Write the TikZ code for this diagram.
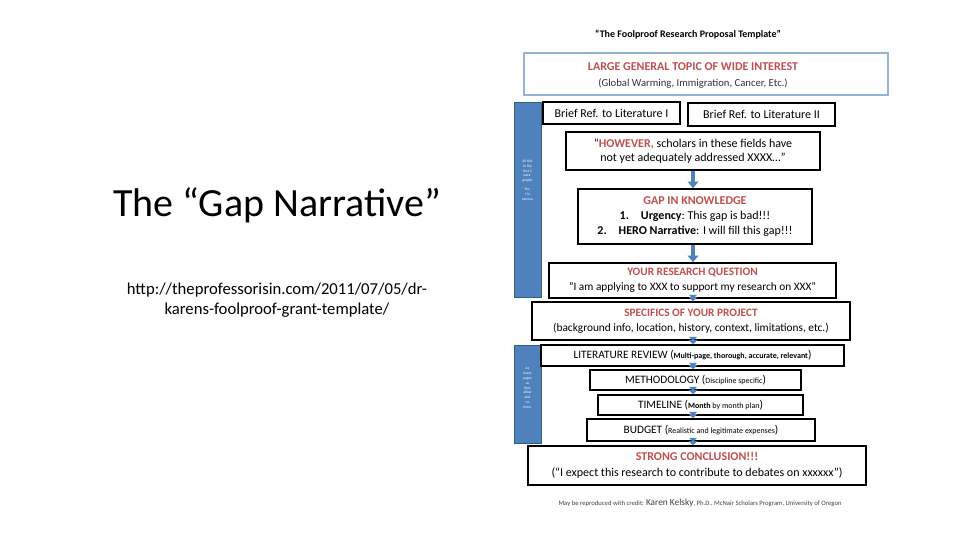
\documentclass[tikz,border=0pt]{standalone}
\usepackage{fontspec}
\setmainfont{Carlito}
\usetikzlibrary{arrows.meta}
\definecolor{dred}{RGB}{192,80,77}
\definecolor{sblue}{RGB}{79,129,189}
\definecolor{lblue}{RGB}{149,179,215}
\begin{document}
\begin{tikzpicture}[x=0.75pt,y=-0.75pt,
  bx/.style={draw=black,line width=1.2pt,fill=white},
  side/.style={fill=sblue,draw=sblue!70!black},
  arr/.style={-{Triangle[length=5pt,width=8pt]},line width=3pt,draw=sblue},
  sarr/.style={{Triangle[length=3pt,width=6pt]}-{Triangle[length=3pt,width=6pt]},line width=2pt,draw=sblue},
  t/.style={inner sep=0pt,align=center}]
\useasboundingbox (0,0) rectangle (960,540);
\node[t,font=\fontsize{30pt}{36pt}\selectfont] (title) at (277,205) {The “Gap Narrative”};
\node[t,font=\fontsize{12.5pt}{15pt}\selectfont] (url) at (277,300) {http://theprofessorisin.com/2011/07/05/dr-\\karens-foolproof-grant-template/};
\node[t,font=\bfseries\fontsize{7.5pt}{9pt}\selectfont] (ttl) at (688,35) {“The Foolproof Research Proposal Template”};
% top box
\draw[draw=lblue,line width=1.2pt,fill=white] (524,53) rectangle (888,95);
\node[t,font=\bfseries\fontsize{9pt}{10pt}\selectfont,text=dred] (top1) at (693,67) {LARGE GENERAL TOPIC OF WIDE INTEREST};
\node[t,font=\fontsize{8pt}{10pt}\selectfont,text=black!80] (top2) at (693,84) {(Global Warming, Immigration, Cancer, Etc.)};
% sidebars
\draw[side] (514,102) rectangle (541,297);
\node[t,text=white,font=\fontsize{2.8pt}{3.6pt}\selectfont] (s1) at (527.5,180) {All this\\in the\\first 2\\para-\\graphs\\[3pt]Yes,\\I'm\\serious};
\draw[side] (514,345) rectangle (541,443);
\node[t,text=white,font=\fontsize{2.8pt}{3.6pt}\selectfont] (s2) at (527.5,388) {As\\many\\pages\\as\\they\\allow\\and\\no\\more};
% brief refs
\node[bx,minimum width=137*0.75pt,minimum height=22*0.75pt,font=\fontsize{9pt}{10pt}\selectfont] (b1) at (611.5,113) {Brief Ref. to Literature I};
\node[bx,minimum width=147*0.75pt,minimum height=23*0.75pt,font=\fontsize{9pt}{10pt}\selectfont] (b2) at (761.5,114.5) {Brief Ref. to Literature II};
% however
\node[bx,minimum width=254*0.75pt,minimum height=38*0.75pt,align=center,font=\fontsize{9pt}{11pt}\selectfont] (how) at (693,151) {“\textcolor{dred}{\textbf{HOWEVER,}} scholars in these fields have\\not yet adequately addressed XXXX…”};
% gap
\node[bx,minimum width=234*0.75pt,minimum height=55*0.75pt,align=center,font=\fontsize{9pt}{11.5pt}\selectfont] (gap) at (695,216.5) {\textcolor{dred}{\textbf{GAP IN KNOWLEDGE}}\\\textbf{1.}\quad\textbf{Urgency}:\ This gap is bad!!!\\\textbf{2.}\quad\textbf{HERO Narrative}: I will fill this gap!!!};
% research question
\node[bx,minimum width=287*0.75pt,minimum height=35*0.75pt,align=center,font=\fontsize{8.5pt}{11pt}\selectfont] (rq) at (692.5,280.5) {\textcolor{dred}{\textbf{YOUR RESEARCH QUESTION}}\\"I am applying to XXX to support my research on XXX"};
% specifics
\node[bx,minimum width=318*0.75pt,minimum height=38*0.75pt,align=center,font=\fontsize{8.5pt}{11pt}\selectfont] (sp) at (691,321) {\textcolor{dred}{\textbf{SPECIFICS OF YOUR PROJECT}}\\(background info, location, history, context, limitations, etc.)};
% list
\node[bx,minimum width=303*0.75pt,minimum height=21*0.75pt,font=\fontsize{8.5pt}{10pt}\selectfont] (lit) at (692.5,355.5) {LITERATURE REVIEW (\textbf{\fontsize{6pt}{7pt}\selectfont Multi-page, thorough, accurate, relevant})};
\node[bx,minimum width=211*0.75pt,minimum height=20*0.75pt,font=\fontsize{8.5pt}{10pt}\selectfont] (meth) at (695.5,380) {METHODOLOGY ({\fontsize{6pt}{7pt}\selectfont Discipline specific})};
\node[bx,minimum width=205*0.75pt,minimum height=20*0.75pt,font=\fontsize{8.5pt}{10pt}\selectfont] (tl) at (700.5,405) {TIMELINE (\textbf{\fontsize{6pt}{7pt}\selectfont Month }{\fontsize{6pt}{7pt}\selectfont by month plan})};
\node[bx,minimum width=228*0.75pt,minimum height=22*0.75pt,font=\fontsize{8.5pt}{10pt}\selectfont] (bud) at (701,430) {BUDGET ({\fontsize{6pt}{7pt}\selectfont Realistic and legitimate expenses})};
\node[bx,minimum width=338*0.75pt,minimum height=39*0.75pt,align=center,font=\fontsize{9pt}{11.5pt}\selectfont] (con) at (697,465.5) {\textcolor{dred}{\textbf{STRONG CONCLUSION!!!}}\\(“I expect this research to contribute to debates on xxxxxx”)};
% arrows
\draw[arr] (how.south -| 693,0) -- (gap.north -| 693,0);
\draw[arr] (gap.south -| 693,0) -- (rq.north -| 693,0);
\draw[sarr] (rq.south -| 693,0) -- (sp.north -| 693,0);
\draw[sarr] (sp.south -| 693,0) -- (lit.north -| 693,0);
\draw[sarr] (lit.south -| 693,0) -- (meth.north -| 693,0);
\draw[sarr] (meth.south -| 693,0) -- (tl.north -| 693,0);
\draw[sarr] (tl.south -| 693,0) -- (bud.north -| 693,0);
\draw[sarr] (bud.south -| 693,0) -- (con.north -| 693,0);
\node[t,font=\fontsize{5pt}{6pt}\selectfont,text=black!75] (cred) at (700,503) {May be reproduced with credit: {\fontsize{7pt}{8pt}\selectfont Karen Kelsky}, Ph.D., McNair Scholars Program, University of Oregon};
\end{tikzpicture}
\end{document}
